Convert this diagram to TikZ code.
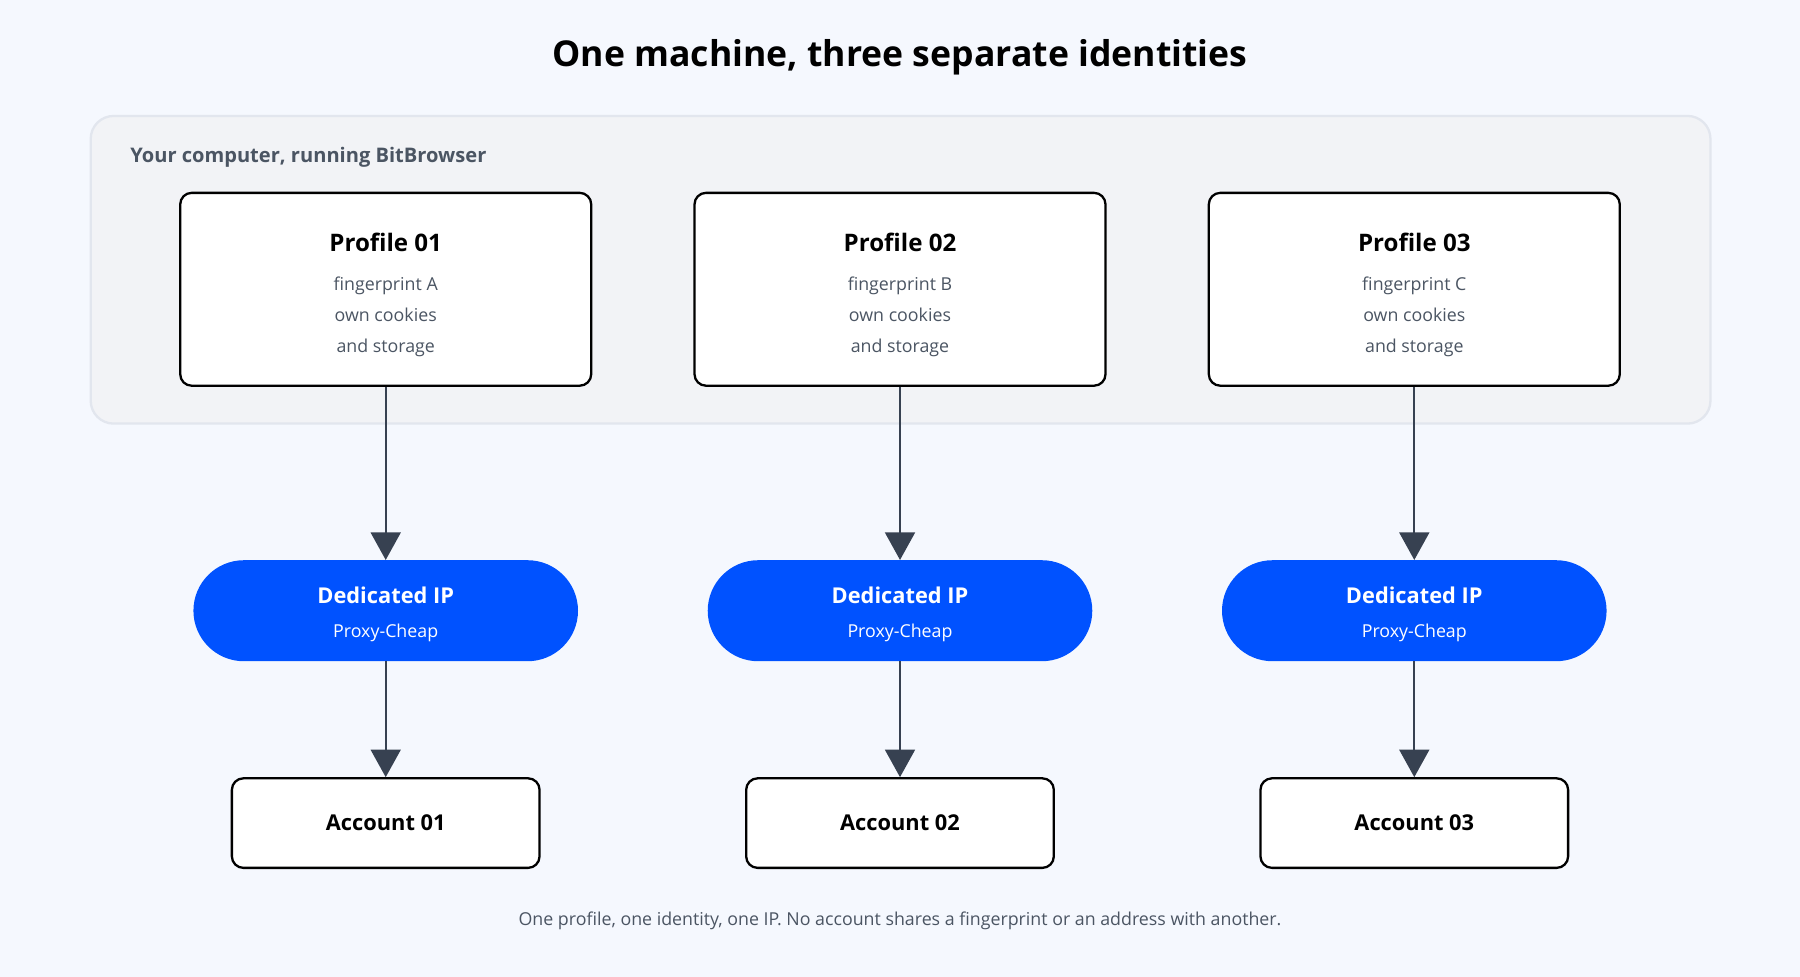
\documentclass[tikz,border=0pt]{standalone}
\usepackage{fontspec}
\setmainfont{Open Sans}
\usetikzlibrary{arrows.meta}
\definecolor{bg}{HTML}{F5F8FE}
\definecolor{boxbg}{HTML}{F2F3F6}
\definecolor{boxline}{HTML}{E2E6EE}
\definecolor{txtgray}{HTML}{4B5563}
\definecolor{arr}{HTML}{374151}
\definecolor{blue}{HTML}{0052FF}
\begin{document}
\begin{tikzpicture}[x=1pt,y=-1pt,
 prof/.style={draw=black,line width=2pt,fill=white,rounded corners=10pt,minimum width=358pt,minimum height=168pt},
 pill/.style={fill=blue,rounded corners=44pt,minimum width=335pt,minimum height=88pt},
 acc/.style={draw=black,line width=2pt,fill=white,rounded corners=10pt,minimum width=268pt,minimum height=78pt,font=\fontsize{19}{22}\selectfont\bfseries},
 conn/.style={draw=arr,line width=2pt,-{Triangle[width=26pt,length=24pt]}},
 small/.style={text=txtgray,font=\fontsize{15.5}{27}\selectfont,align=center}]
\fill[bg] (0,0) rectangle (1568,851);
\useasboundingbox (0,0) rectangle (1568,851);
\node[font=\fontsize{31}{36}\selectfont\bfseries] (title) at (784,50) {One machine, three separate identities};
\draw[boxline,fill=boxbg,line width=2pt,rounded corners=20pt] (79,101) rectangle (1490,369);
\node[anchor=west,text=txtgray,font=\fontsize{17.5}{20}\selectfont\bfseries] (lbl) at (110,137) {Your computer, running BitBrowser};
\foreach \i/\x/\f in {1/336/A,2/784/B,3/1232/C}{
 \node[prof] (p\i) at (\x,252) {};
 \node[font=\fontsize{21}{24}\selectfont\bfseries] (pt\i) at (\x,211) {Profile 0\i};
 \node[small] (pd\i) at (\x,276) {fingerprint \f\\own cookies\\and storage};
 \node[pill] (ip\i) at (\x,532) {};
 \node[text=white,font=\fontsize{19}{22}\selectfont\bfseries] (ipt\i) at (\x,519) {Dedicated IP};
 \node[text=white,font=\fontsize{15.5}{18}\selectfont] (ips\i) at (\x,551) {Proxy-Cheap};
 \node[acc] (a\i) at (\x,717) {Account 0\i};
 \draw[conn] (p\i.south) -- (ip\i.north);
 \draw[conn] (ip\i.south) -- (a\i.north);
}
\node[text=txtgray,font=\fontsize{15.5}{18}\selectfont] (foot) at (784,802) {One profile, one identity, one IP. No account shares a fingerprint or an address with another.};
\end{tikzpicture}
\end{document}
